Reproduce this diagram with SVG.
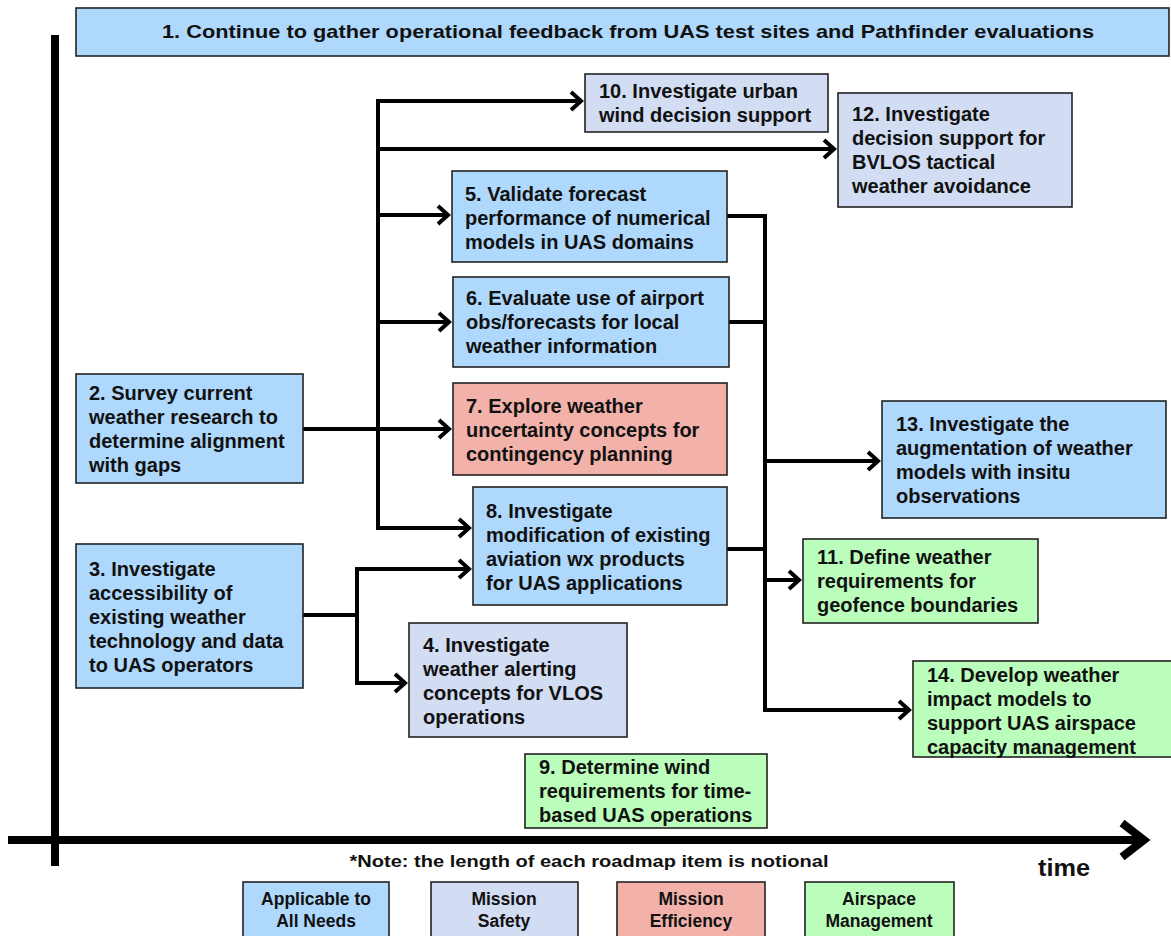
<svg xmlns="http://www.w3.org/2000/svg" width="1171" height="936" viewBox="0 0 1171 936">
<style>
  .box{stroke:#222;stroke-width:1.6}
  .blue{fill:#AED8FC}
  .lav{fill:#D2DCF2}
  .red{fill:#F2B2AA}
  .grn{fill:#BBFDBB}
  text{font-family:"Liberation Sans",Arial,sans-serif;font-weight:bold;fill:#111}
  .t{font-size:20px}
  .lg{font-size:17.5px;text-anchor:middle}
  .c{fill:none;stroke:#000;stroke-width:4;stroke-linejoin:miter}
  .a{marker-end:url(#arr)}
</style>
<defs>
  <marker id="arr" viewBox="0 0 16 22" refX="14" refY="11" markerWidth="16" markerHeight="22" markerUnits="userSpaceOnUse" orient="auto">
    <path d="M3,2 L13,11 L3,20" fill="none" stroke="#000" stroke-width="4"/>
  </marker>
</defs>
<rect width="1171" height="936" fill="#fff"/>

<g id="axes">
  <line x1="55" y1="35" x2="55" y2="866" stroke="#000" stroke-width="8"/>
  <line x1="8" y1="840" x2="1140" y2="840" stroke="#000" stroke-width="8"/>
  <polyline points="1122,823 1144,840 1122,857" fill="none" stroke="#000" stroke-width="8"/>
  <text x="1038" y="876" font-size="24" textLength="52" lengthAdjust="spacingAndGlyphs">time</text>
  <text x="589" y="867" font-size="17" text-anchor="middle" textLength="479" lengthAdjust="spacingAndGlyphs">*Note: the length of each roadmap item is notional</text>
</g>

<g id="connectors">
  <polyline class="c" points="380,101 378,101 378,528"/>
  <line class="c a" x1="376" y1="101" x2="582" y2="101"/>
  <line class="c a" x1="376" y1="149" x2="835" y2="149"/>
  <line class="c a" x1="376" y1="215" x2="449" y2="215"/>
  <line class="c a" x1="376" y1="322" x2="450" y2="322"/>
  <line class="c a" x1="303" y1="429" x2="450" y2="429"/>
  <line class="c a" x1="376" y1="528" x2="470" y2="528"/>
  <line class="c" x1="303" y1="615" x2="357" y2="615"/>
  <line class="c" x1="357" y1="567" x2="357" y2="685"/>
  <line class="c a" x1="355" y1="569" x2="470" y2="569"/>
  <line class="c a" x1="355" y1="683" x2="406" y2="683"/>
  <polyline class="c" points="727,216 765,216 765,712"/>
  <line class="c" x1="729" y1="322" x2="765" y2="322"/>
  <line class="c" x1="727" y1="549" x2="765" y2="549"/>
  <line class="c a" x1="763" y1="461" x2="879" y2="461"/>
  <line class="c a" x1="763" y1="580" x2="800" y2="580"/>
  <line class="c a" x1="763" y1="710" x2="910" y2="710"/>
</g>

<g id="n1">
  <rect class="box blue" x="76" y="8" width="1093" height="48"/>
  <text x="628" y="38" font-size="19" text-anchor="middle" textLength="932" lengthAdjust="spacingAndGlyphs">1. Continue to gather operational feedback from UAS test sites and Pathfinder evaluations</text>
</g>

<g id="n10">
  <rect class="box lav" x="585" y="74" width="243" height="58"/>
  <text class="t"><tspan x="599" y="98">10. Investigate urban</tspan><tspan x="599" y="122">wind decision support</tspan></text>
</g>

<g id="n12">
  <rect class="box lav" x="838" y="93" width="234" height="114"/>
  <text class="t"><tspan x="852" y="121">12. Investigate</tspan><tspan x="852" y="145">decision support for</tspan><tspan x="852" y="169">BVLOS tactical</tspan><tspan x="852" y="193">weather avoidance</tspan></text>
</g>

<g id="n5">
  <rect class="box blue" x="452" y="171" width="275" height="91"/>
  <text class="t"><tspan x="465" y="201">5. Validate forecast</tspan><tspan x="465" y="225">performance of numerical</tspan><tspan x="465" y="249">models in UAS domains</tspan></text>
</g>

<g id="n6">
  <rect class="box blue" x="453" y="277" width="276" height="90"/>
  <text class="t"><tspan x="466" y="305">6. Evaluate use of airport</tspan><tspan x="466" y="329">obs/forecasts for local</tspan><tspan x="466" y="353">weather information</tspan></text>
</g>

<g id="n7">
  <rect class="box red" x="453" y="383" width="274" height="92"/>
  <text class="t"><tspan x="466" y="413">7. Explore weather</tspan><tspan x="466" y="437">uncertainty concepts for</tspan><tspan x="466" y="461">contingency planning</tspan></text>
</g>

<g id="n8">
  <rect class="box blue" x="473" y="487" width="254" height="118"/>
  <text class="t"><tspan x="486" y="518">8. Investigate</tspan><tspan x="486" y="542">modification of existing</tspan><tspan x="486" y="566">aviation wx products</tspan><tspan x="486" y="590">for UAS applications</tspan></text>
</g>

<g id="n2">
  <rect class="box blue" x="76" y="374" width="227" height="109"/>
  <text class="t"><tspan x="89" y="400">2. Survey current</tspan><tspan x="89" y="424">weather research to</tspan><tspan x="89" y="448">determine alignment</tspan><tspan x="89" y="472">with gaps</tspan></text>
</g>

<g id="n3">
  <rect class="box blue" x="76" y="544" width="227" height="144"/>
  <text class="t"><tspan x="89" y="576">3. Investigate</tspan><tspan x="89" y="600">accessibility of</tspan><tspan x="89" y="624">existing weather</tspan><tspan x="89" y="648">technology and data</tspan><tspan x="89" y="672">to UAS operators</tspan></text>
</g>

<g id="n4">
  <rect class="box lav" x="409" y="623" width="218" height="114"/>
  <text class="t"><tspan x="423" y="652">4. Investigate</tspan><tspan x="423" y="676">weather alerting</tspan><tspan x="423" y="700">concepts for VLOS</tspan><tspan x="423" y="724">operations</tspan></text>
</g>

<g id="n9">
  <rect class="box grn" x="525" y="754" width="242" height="74"/>
  <text class="t"><tspan x="539" y="774">9. Determine wind</tspan><tspan x="539" y="798">requirements for time-</tspan><tspan x="539" y="822">based UAS operations</tspan></text>
</g>

<g id="n13">
  <rect class="box blue" x="882" y="401" width="284" height="117"/>
  <text class="t"><tspan x="896" y="431">13. Investigate the</tspan><tspan x="896" y="455">augmentation of weather</tspan><tspan x="896" y="479">models with insitu</tspan><tspan x="896" y="503">observations</tspan></text>
</g>

<g id="n11">
  <rect class="box grn" x="803" y="539" width="235" height="84"/>
  <text class="t"><tspan x="817" y="564">11. Define weather</tspan><tspan x="817" y="588">requirements for</tspan><tspan x="817" y="612">geofence boundaries</tspan></text>
</g>

<g id="n14">
  <rect class="box grn" x="913" y="661" width="260" height="96"/>
  <text class="t"><tspan x="927" y="682">14. Develop weather</tspan><tspan x="927" y="706">impact models to</tspan><tspan x="927" y="730">support UAS airspace</tspan><tspan x="927" y="754">capacity management</tspan></text>
</g>

<g id="legend">
  <rect class="box blue" x="243" y="882" width="146" height="60"/>
  <text class="lg"><tspan x="316" y="905">Applicable to</tspan><tspan x="316" y="927">All Needs</tspan></text>
  <rect class="box lav" x="431" y="882" width="147" height="60"/>
  <text class="lg"><tspan x="504" y="905">Mission</tspan><tspan x="504" y="927">Safety</tspan></text>
  <rect class="box red" x="617" y="882" width="148" height="60"/>
  <text class="lg"><tspan x="691" y="905">Mission</tspan><tspan x="691" y="927">Efficiency</tspan></text>
  <rect class="box grn" x="805" y="882" width="149" height="60"/>
  <text class="lg"><tspan x="879" y="905">Airspace</tspan><tspan x="879" y="927">Management</tspan></text>
</g>
</svg>
